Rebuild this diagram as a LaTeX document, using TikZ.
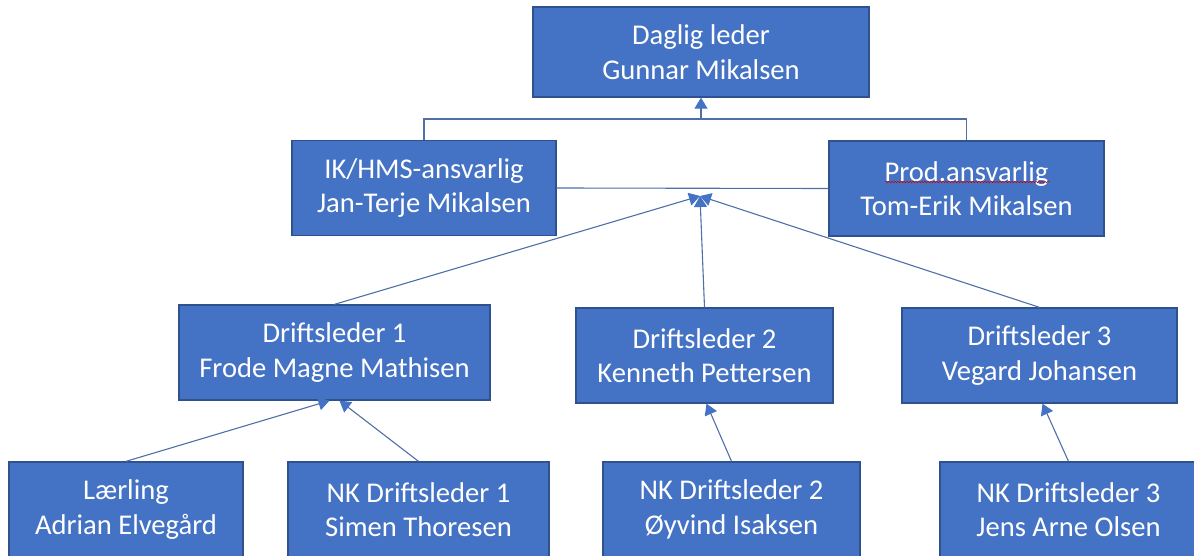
\documentclass[tikz,border=0pt]{standalone}
\usepackage{fontspec}
\setmainfont{Carlito}
\usetikzlibrary{arrows.meta,decorations.pathmorphing}
\definecolor{boxfill}{HTML}{4472C4}
\definecolor{boxedge}{HTML}{2F528F}
\definecolor{linkcol}{HTML}{4F6FA8}
\tikzset{
  orgbox/.style={draw=boxedge,fill=boxfill,text=white,line width=1.3pt,
    minimum height=95pt,inner sep=0pt,align=center,
    font=\fontsize{28.6}{34.5}\selectfont},
  link/.style={draw=linkcol,line width=1.1pt},
  uplink/.style={link,-{Triangle[width=13pt,length=11pt,color=boxfill]}}
}
\begin{document}
\begin{tikzpicture}[x=1pt,y=-1pt]
    \useasboundingbox (0,0) rectangle (1194,556);
    % top level
    \node[orgbox,minimum width=336pt,minimum height=90pt] (leder) at (701,52) {Daglig leder\\Gunnar Mikalsen};
    \node[orgbox,minimum width=264pt] (hms) at (424,188) {IK/HMS-ansvarlig\\Jan-Terje Mikalsen};
    \node[orgbox,minimum width=275pt] (prod) at (966.5,188.5) {Prod.ansvarlig\\Tom-Erik Mikalsen};
    % driftsledere
    \node[orgbox,minimum width=311pt] (drift1) at (334.5,352.5) {Driftsleder 1\\Frode Magne Mathisen};
    \node[orgbox,minimum width=257pt] (drift2) at (704.5,355.5) {Driftsleder 2\\Kenneth Pettersen};
    \node[orgbox,minimum width=275pt] (drift3) at (1039.5,355.5) {Driftsleder 3\\Vegard Johansen};
    % bottom row
    \node[orgbox,minimum width=234pt] (laer) at (126,509.5) {L\ae rling\\Adrian Elveg\aa rd};
    \node[orgbox,minimum width=261pt] (nk1) at (418.5,509.5) {NK Driftsleder 1\\Simen Thoresen};
    \node[orgbox,minimum width=257pt] (nk2) at (731.5,509.5) {NK Driftsleder 2\\\O yvind Isaksen};
    \node[orgbox,minimum width=257pt] (nk3) at (1068.5,509.5) {NK Driftsleder 3\\Jens Arne Olsen};
    % spell check mark
    \draw[red!80!black,line width=0.5pt,decorate,decoration={snake,amplitude=0.8pt,segment length=3pt}] (885,182) -- (1050,182);
    % connectors
    \coordinate (top) at (701,119);
    \coordinate (mid) at (700,196);
    \draw[link] (hms.north) |- (top) -| (prod.north);
    \draw[uplink] (top) -- (leder.south);
    \draw[link] (hms.east) -- (prod.west);
    \foreach \d in {drift1,drift2,drift3}
    \draw[uplink] (\d.north) -- (mid);
    \draw[uplink] (laer.north) -- ([xshift=-5pt]drift1.south);
    \draw[uplink] (nk1.north) -- ([xshift=5pt]drift1.south);
    \draw[uplink] (nk2.north) -- ([xshift=2pt]drift2.south);
    \draw[uplink] (nk3.north) -- ([xshift=3pt]drift3.south);
  \end{tikzpicture}
\end{document}
